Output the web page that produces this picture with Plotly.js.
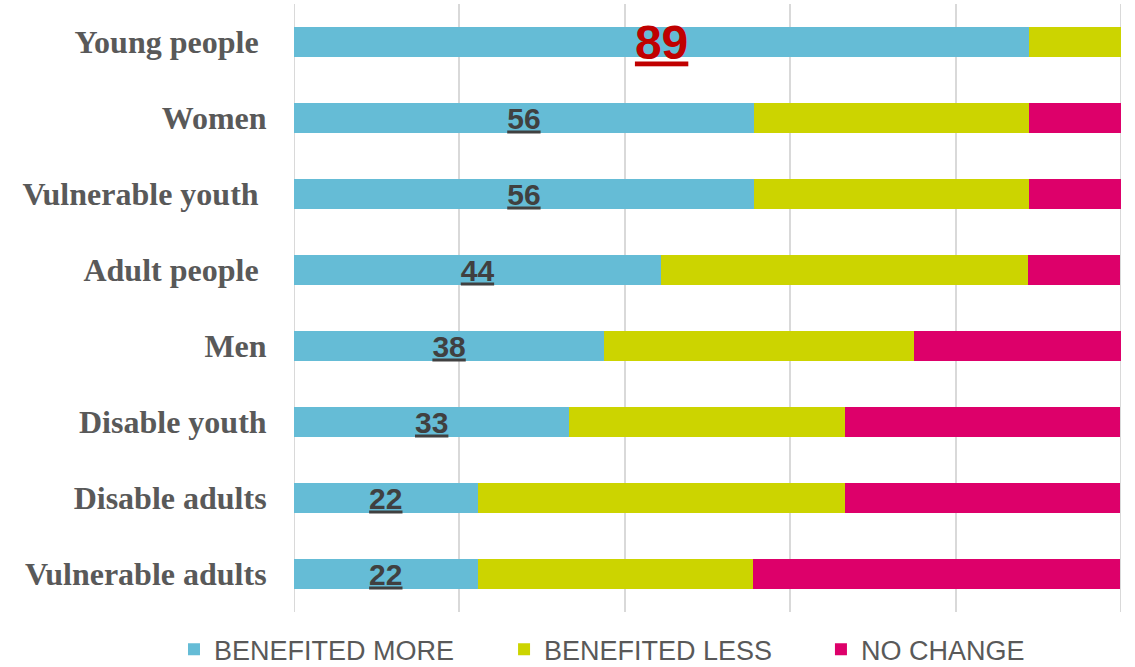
<!DOCTYPE html>
<html>
<head>
<meta charset="utf-8">
<script src="https://cdn.plot.ly/plotly-3.0.1.min.js"></script>
<style>
html, body { margin: 0; padding: 0; background: #ffffff; }
#chart { width: 1135px; height: 667px; }
</style>
</head>
<body>
<div id="chart"></div>
<script>
// Categories (top to bottom); trailing non-breaking spaces as in the original labels
var categories = [
  "Young people\u00a0",
  "Women",
  "Vulnerable youth\u00a0",
  "Adult people\u00a0",
  "Men",
  "Disable youth",
  "Disable adults",
  "Vulnerable adults"
];
// Percent values
var benefitedMore = [88.9, 55.6, 55.6, 44.4, 37.5, 33.3, 22.2, 22.2];
var benefitedLess = [11.1, 33.3, 33.3, 44.4, 37.5, 33.3, 44.4, 33.3];
var noChange      = [0,    11.1, 11.1, 11.1, 25.0, 33.3, 33.3, 44.4];
var seriesNames = ["BENEFITED MORE", "BENEFITED LESS", "NO CHANGE"];
var seriesColors = ["#65BCD6", "#CCD400", "#DD006A"];

var labelText = benefitedMore.map(function (v) { return "<u>" + Math.round(v) + "</u>"; });
var labelColors = benefitedMore.map(function (v, i) { return i === 0 ? "#C00000" : "#404040"; });
var labelSizes = benefitedMore.map(function (v, i) { return i === 0 ? 48 : 30; });

var common = {
  type: "bar",
  orientation: "h",
  y: categories,
  hoverinfo: "skip"
};

var traces = [
  Object.assign({}, common, {
    name: seriesNames[0],
    legend: "legend",
    x: benefitedMore,
    marker: { color: seriesColors[0] },
    text: labelText,
    textposition: "inside",
    insidetextanchor: "middle",
    textangle: 0,
    constraintext: "none",
    textfont: { family: "Liberation Sans, Arial, sans-serif", size: labelSizes, color: labelColors, weight: "bold" }
  }),
  Object.assign({}, common, {
    name: seriesNames[1],
    legend: "legend2",
    x: benefitedLess,
    marker: { color: seriesColors[1] },
    textposition: "none"
  }),
  Object.assign({}, common, {
    name: seriesNames[2],
    legend: "legend3",
    x: noChange,
    marker: { color: seriesColors[2] },
    textposition: "none"
  })
];

function legendAt(xc) {
  return {
    orientation: "h",
    xref: "container",
    yref: "container",
    x: xc,
    xanchor: "left",
    y: 0.026,
    yanchor: "middle",
    bgcolor: "rgba(0,0,0,0)",
    font: { family: "Liberation Sans, Arial, sans-serif", size: 27, color: "#595959" }
  };
}

var layout = {
  width: 1135,
  height: 667,
  margin: { l: 294, r: 14, t: 4, b: 55, pad: 0 },
  paper_bgcolor: "#ffffff",
  plot_bgcolor: "#ffffff",
  barmode: "stack",
  bargap: 0.605,
  showlegend: true,
  legend: legendAt(0.1533),
  legend2: legendAt(0.4441),
  legend3: legendAt(0.7233),
  xaxis: {
    range: [0, 100],
    dtick: 20,
    showgrid: true,
    gridcolor: "#D9D9D9",
    gridwidth: 2,
    zeroline: false,
    showline: false,
    showticklabels: false,
    ticks: "",
    fixedrange: true
  },
  yaxis: {
    type: "category",
    autorange: "reversed",
    showgrid: false,
    zeroline: false,
    showline: false,
    ticks: "outside",
    ticklen: 20,
    tickcolor: "rgba(0,0,0,0)",
    tickfont: { family: "Liberation Serif, Times New Roman, serif", size: 32, color: "#595959", weight: "bold" },
    fixedrange: true
  },
  shapes: [
    { type: "line", xref: "x", yref: "paper", x0: 0, x1: 0, y0: 0, y1: 1, line: { color: "#D9D9D9", width: 2 }, layer: "below" },
    { type: "line", xref: "x", yref: "paper", x0: 100, x1: 100, y0: 0, y1: 1, line: { color: "#D9D9D9", width: 2 }, layer: "below" }
  ]
};

Plotly.newPlot("chart", traces, layout, { displayModeBar: false, staticPlot: true });
</script>
</body>
</html>
